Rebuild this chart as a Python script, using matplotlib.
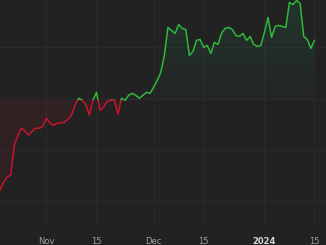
import datetime as dt

import matplotlib
matplotlib.use("Agg")
import matplotlib.dates as mdates
import matplotlib.pyplot as plt
from matplotlib.path import Path
import numpy as np

# daily closes, Oct 19 2023 -> Jan 15 2024
start_date = dt.datetime(2023, 10, 19)
prices = [
    31.0, 31.8, 32.3, 32.5, 35.5, 36.5, 37.2, 36.9, 36.5, 36.9,
    37.2, 37.2, 37.4, 38.2, 37.7, 37.5, 37.7, 37.7, 37.8, 38.1,
    38.5, 39.5, 40.2, 40.0, 39.6, 38.5, 40.0, 40.8, 39.0, 39.3,
    39.9, 40.0, 40.0, 38.6, 40.2, 40.0, 40.5, 40.7, 40.5, 40.2,
    40.5, 40.8, 40.7, 41.3, 42.0, 42.8, 44.5, 47.3, 47.0, 46.7,
    47.6, 47.2, 47.1, 44.5, 44.9, 46.0, 46.1, 45.3, 45.5, 44.7,
    45.8, 45.6, 46.7, 47.2, 47.3, 47.1, 46.5, 46.4, 46.7, 46.0,
    46.4, 45.6, 45.4, 45.5, 46.8, 48.3, 46.3, 47.4, 47.5, 47.4,
    47.3, 49.8, 49.6, 50.0, 49.7, 46.4, 46.1, 45.2, 46.0,
]
baseline = 40.0
tick_dates = [dt.datetime(2023, 11, 1), dt.datetime(2023, 11, 15),
              dt.datetime(2023, 12, 1), dt.datetime(2023, 12, 15),
              dt.datetime(2024, 1, 1), dt.datetime(2024, 1, 15)]
tick_labels = ['Nov', '15', 'Dec', '15', '2024', '15']

BG = '#222222'
GRID = '#292929'
UP = '#2fb83a'
DOWN = '#c8142a'

dates = [start_date + dt.timedelta(days=i) for i in range(len(prices))]
x = mdates.date2num(dates)
y = np.array(prices)

# insert the crossing points so the colour switch sits on the baseline
xs, ys = [x[0]], [y[0]]
for i in range(1, len(x)):
    a, b = y[i - 1] - baseline, y[i] - baseline
    if a * b < 0:
        t = a / (a - b)
        xs.append(x[i - 1] + t * (x[i] - x[i - 1]))
        ys.append(baseline)
    xs.append(x[i])
    ys.append(y[i])
xs, ys = np.array(xs), np.array(ys)

fig = plt.figure(figsize=(3.26, 2.45), dpi=100, facecolor=BG)
ax = fig.add_axes([0, 19 / 245, 1, 226 / 245])
ax.set_facecolor(BG)

x0 = mdates.date2num(start_date)
x1 = x0 + 326 / 3.573
ylo, yhi = 27.4, 50.05
ax.set_xlim(x0, x1)
ax.set_ylim(ylo, yhi)

# grid
for gy in [45.3, 40.1, 35.0, 29.9]:
    ax.axhline(gy, color=GRID, lw=0.8, zorder=0)
for td in tick_dates:
    ax.axvline(mdates.date2num(td), color=GRID, lw=0.8, zorder=0)

# gradient fills, clipped to the area between line and baseline
up_poly = ax.fill_between(xs, ys, baseline, where=ys >= baseline,
                          color='none', lw=0)
dn_poly = ax.fill_between(xs, ys, baseline, where=ys <= baseline,
                          color='none', lw=0)

n = 256
grad_up = np.zeros((n, 1, 4))
grad_up[..., :3] = matplotlib.colors.to_rgb('#2aa07a')
grad_up[..., 3] = np.linspace(0.03, 0.15, n)[:, None]
im_up = ax.imshow(grad_up, extent=[x0, x1, baseline, yhi], origin='lower',
                  aspect='auto', zorder=1)

grad_dn = np.zeros((n, 1, 4))
grad_dn[..., :3] = matplotlib.colors.to_rgb('#c0202a')
grad_dn[..., 3] = np.linspace(0.07, 0.11, n)[:, None]
im_dn = ax.imshow(grad_dn, extent=[x0, x1, ylo, baseline], origin='lower',
                  aspect='auto', zorder=1)


def joined(coll):
    return Path.make_compound_path(*coll.get_paths())


im_up.set_clip_path(joined(up_poly), transform=ax.transData)
im_dn.set_clip_path(joined(dn_poly), transform=ax.transData)

# line split into up / down parts
ax.plot(xs, np.where(ys >= baseline, ys, np.nan), color=UP, lw=1.1, zorder=3)
ax.plot(xs, np.where(ys <= baseline, ys, np.nan), color=DOWN, lw=1.1, zorder=3)

for s in ax.spines.values():
    s.set_visible(False)
ax.set_xticks([])
ax.set_yticks([])

for td, lab in zip(tick_dates, tick_labels):
    bold = lab == '2024'
    fig.text((mdates.date2num(td) - x0) / (x1 - x0), 1.5 / 245, lab,
             ha='center', va='baseline', fontsize=6,
             color='#d8d8d8' if bold else '#a0a0a0',
             fontweight='bold' if bold else 'normal', family='DejaVu Sans')

fig.savefig('out.png', dpi=100, facecolor=BG)
